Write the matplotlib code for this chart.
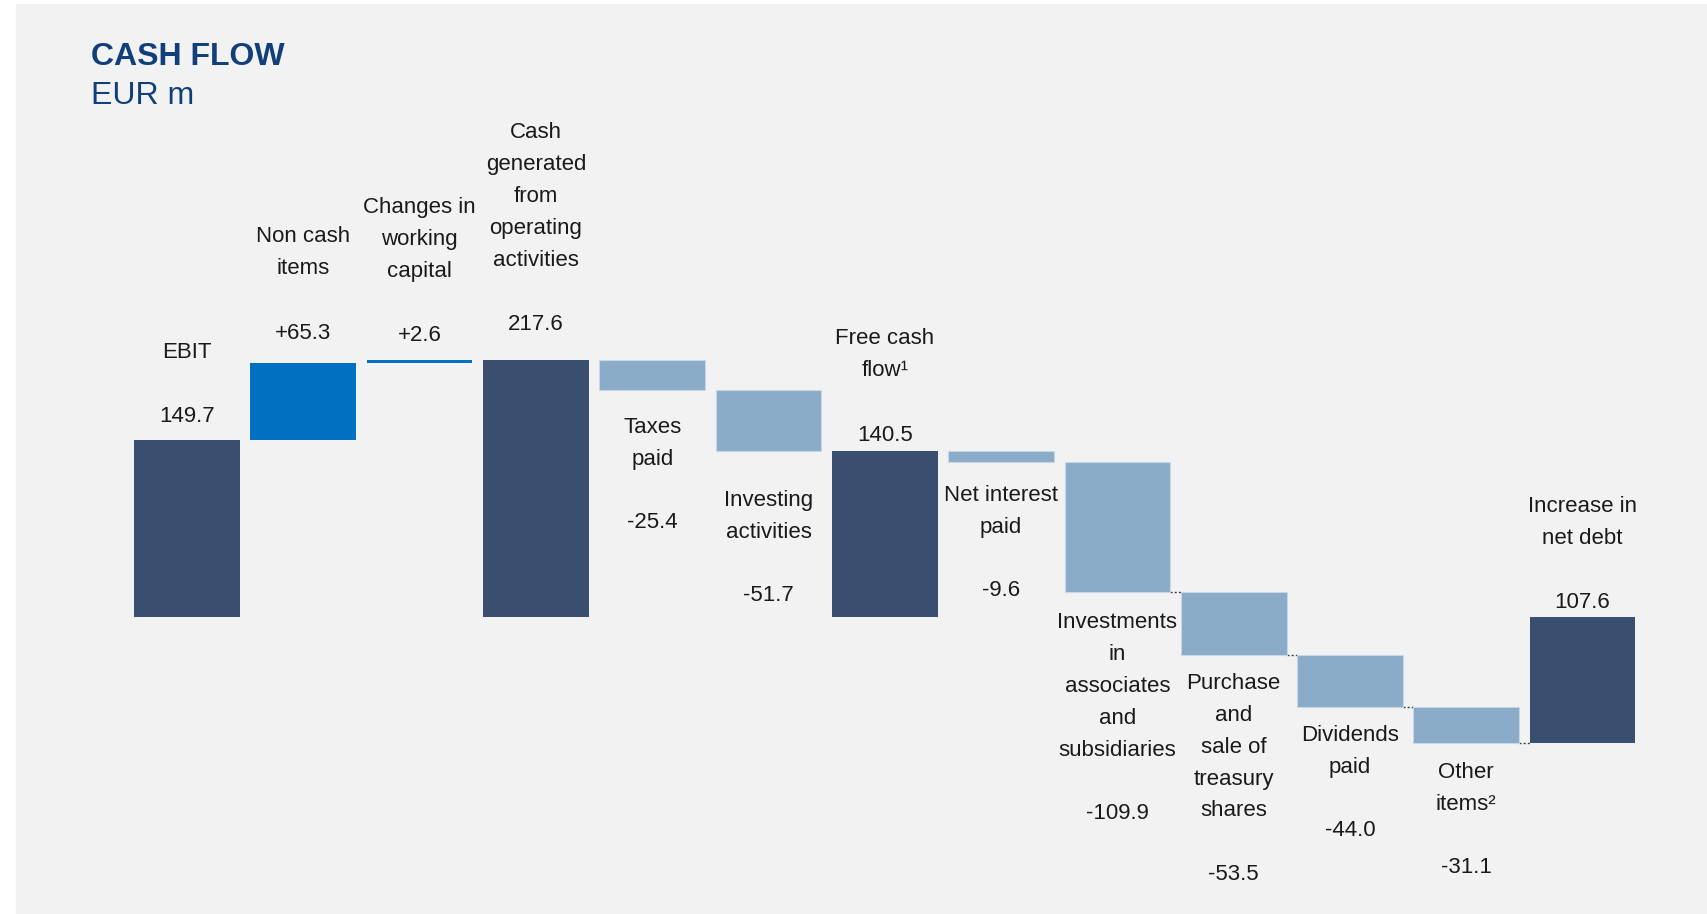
import matplotlib
matplotlib.use("Agg")
import matplotlib.pyplot as plt
from matplotlib import font_manager
from matplotlib.patches import Rectangle

# cash flow bridge, EUR m
categories = [
    "EBIT",
    "Non cash\nitems",
    "Changes in\nworking\ncapital",
    "Cash\ngenerated\nfrom\noperating\nactivities",
    "Taxes\npaid",
    "Investing\nactivities",
    "Free cash\nflow\u00b9",
    "Net interest\npaid",
    "Investments\nin\nassociates\nand\nsubsidiaries",
    "Purchase\nand\nsale of\ntreasury\nshares",
    "Dividends\npaid",
    "Other\nitems\u00b2",
    "Increase in\nnet debt",
]
values = [149.7, 65.3, 2.6, 217.6, -25.4, -51.7, 140.5, -9.6, -109.9, -53.5, -44.0, -31.1, 107.6]
value_labels = ["149.7", "+65.3", "+2.6", "217.6", "-25.4", "-51.7", "140.5",
                "-9.6", "-109.9", "-53.5", "-44.0", "-31.1", "107.6"]
kinds = ["total", "up", "up", "total", "down", "down", "total",
         "down", "down", "down", "down", "down", "debt"]

# gap between bar edge and nearest label line (pixels)
label_gap = [26, 32, 27, 37, 35, 46, 19, 31, 29, 27, 27, 27, 17]

DARK = "#3a4e6f"
BLUE = "#0070c0"
LIGHT = "#8aacc9"
TITLE = "#113f7a"

names = {f.name for f in font_manager.fontManager.ttflist}
if "Liberation Sans Narrow" in names:
    label_font, label_size, spacing = "Liberation Sans Narrow", 19, 1.3
else:
    label_font, label_size, spacing = "Liberation Sans", 16, 1.675

W, H = 1708, 914
fig = plt.figure(figsize=(W / 100, H / 100), dpi=100)
fig.patches.append(Rectangle((16 / W, 0), 1, (H - 4) / H, transform=fig.transFigure,
                             color="#f2f2f2", zorder=-10))
ax = fig.add_axes([0, 0, 1, 1])
ax.set_axis_off()

pitch, x0 = 116.3, 187
ppu, y0 = 1.179, 616.5
ax.set_xlim(-x0 / pitch, (W - x0) / pitch)
ax.set_ylim((y0 - H) / ppu, y0 / ppu)

px2pt = 0.72
line_px = 31.9
width = 0.909

level = 0
bottoms, tops = [], []
for i, (v, k) in enumerate(zip(values, kinds)):
    if k == "total":
        bottom, height, color = 0, v, DARK
        level = v
    elif k == "debt":
        bottom, height, color = 0, -v, DARK
    else:
        bottom, height = level, v
        color = BLUE if k == "up" else LIGHT
        level += v
    ec = "#c8d7e5" if k == "down" else color
    ax.bar(i, height, bottom=bottom, width=width, color=color, edgecolor=ec,
           linewidth=0.8 if k == "down" else 0, zorder=2)
    bottoms.append(min(bottom, bottom + height))
    tops.append(max(bottom, bottom + height))

# dotted connectors on the lower steps
for i in range(8, 12):
    lvl = bottoms[i]
    ax.plot([i + width / 2, i + 1 - width / 2], [lvl, lvl], color="#404040",
            linestyle=(0, (1.5, 1.5)), linewidth=1, zorder=1)

txt = dict(fontfamily=[label_font, "DejaVu Sans"], fontsize=label_size, color="#1a1a1a",
           ha="center", linespacing=spacing, textcoords="offset points")

for i, (name, lab, k) in enumerate(zip(categories, value_labels, kinds)):
    n = name.count("\n") + 1
    if k in ("total", "up", "debt"):
        anchor = tops[i] if k != "debt" else 0
        val_off = label_gap[i] * 1.089 - 5
        ax.annotate(lab, (i, anchor), xytext=(0, val_off * px2pt), va="center", **txt)
        ax.annotate(name, (i, anchor), xytext=(0, (val_off + 54) * px2pt), va="bottom", **txt)
    else:
        first = label_gap[i] * 1.089
        ax.annotate(name, (i, bottoms[i]), xytext=(0, -(first - 11) * px2pt), va="top", **txt)
        val_off = first + (n - 1) * line_px + 63
        ax.annotate(lab, (i, bottoms[i]), xytext=(0, -val_off * px2pt), va="center", **txt)

fig.text(91 / W, 1 - 65 / H, "CASH FLOW", fontfamily="Liberation Sans", fontweight="bold",
         fontsize=23, color=TITLE, va="baseline")
fig.text(91 / W, 1 - 104 / H, "EUR m", fontfamily="Liberation Sans",
         fontsize=23, color=TITLE, va="baseline")

fig.savefig("out.png", dpi=100)
